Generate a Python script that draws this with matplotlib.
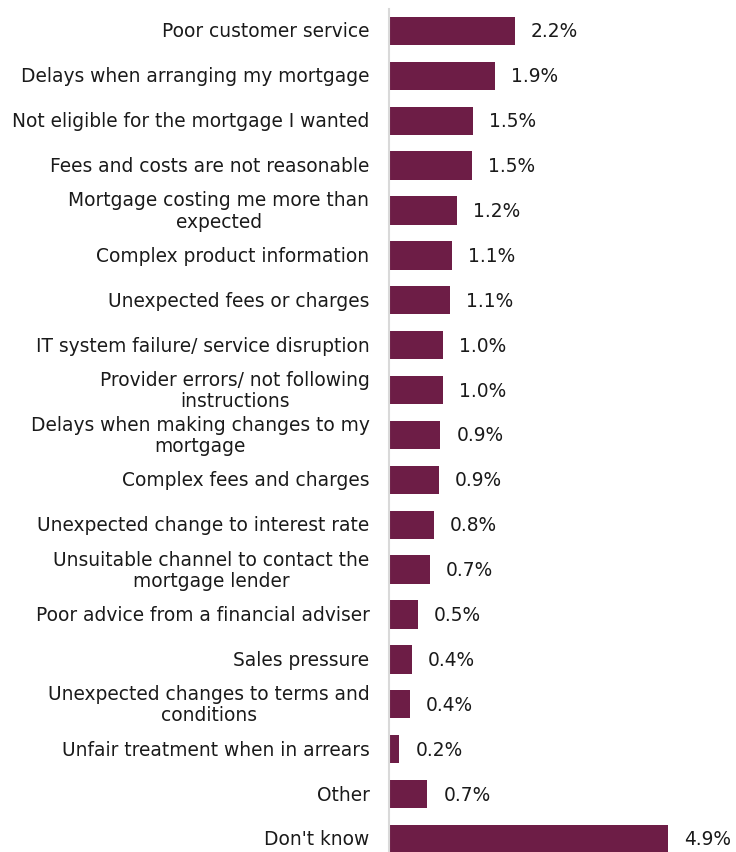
import matplotlib
matplotlib.use("Agg")
import matplotlib.pyplot as plt

categories = [
    "Poor customer service",
    "Delays when arranging my mortgage",
    "Not eligible for the mortgage I wanted",
    "Fees and costs are not reasonable",
    "Mortgage costing me more than\nexpected",
    "Complex product information",
    "Unexpected fees or charges",
    "IT system failure/ service disruption",
    "Provider errors/ not following\ninstructions",
    "Delays when making changes to my\nmortgage",
    "Complex fees and charges",
    "Unexpected change to interest rate",
    "Unsuitable channel to contact the\nmortgage lender",
    "Poor advice from a financial adviser",
    "Sales pressure",
    "Unexpected changes to terms and\nconditions",
    "Unfair treatment when in arrears",
    "Other",
    "Don't know",
]
values = [2.22, 1.86, 1.48, 1.46, 1.21, 1.11, 1.08, 0.96, 0.96, 0.91, 0.88, 0.79, 0.73,
          0.52, 0.41, 0.37, 0.19, 0.68, 4.90]
value_labels = ["2.2%", "1.9%", "1.5%", "1.5%", "1.2%", "1.1%", "1.1%", "1.0%", "1.0%", "0.9%",
                "0.9%", "0.8%", "0.7%", "0.5%", "0.4%", "0.4%", "0.2%", "0.7%", "4.9%"]

color = "#6D1D46"
text_color = "#1a1a1a"
fs = 13.4

fig = plt.figure(figsize=(7.36, 8.52), dpi=100)
ax = fig.add_axes([388.5 / 736, 0, 342 / 736, (852 - 8.5) / 852])

y = list(range(len(categories)))
ax.barh(y, values, height=0.63, color=color)
ax.set_ylim(18.29, -0.5)
ax.set_xlim(0, 6.0)

for yi, v, lab in zip(y, values, value_labels):
    ax.annotate(lab, (v, yi), xytext=(16, -1), textcoords="offset pixels",
                ha="left", va="center", fontsize=fs, color=text_color, annotation_clip=False)

for yi, cat in zip(y, categories):
    ax.annotate(cat, (0, yi), xytext=(-19, -1), textcoords="offset pixels",
                ha="right", va="center", multialignment="center",
                fontsize=fs, color=text_color, linespacing=1.15, annotation_clip=False)

ax.set_yticks([])
ax.set_xticks([])
for s in ["top", "right", "bottom"]:
    ax.spines[s].set_visible(False)
ax.spines["left"].set_color("#d9d9d9")
ax.spines["left"].set_linewidth(1.5)

fig.savefig("out.png", dpi=100)
